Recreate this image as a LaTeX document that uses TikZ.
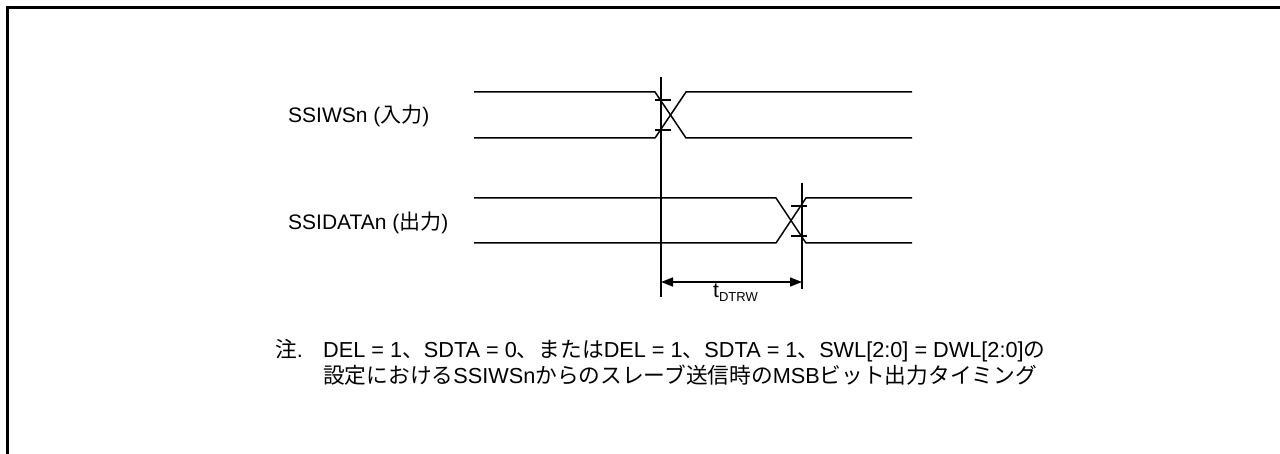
\documentclass[tikz,border=0pt]{standalone}
\usepackage{fontspec}
\setmainfont{Liberation Sans}
\newfontfamily\jp{Noto Sans CJK JP}
\usetikzlibrary{arrows.meta}
\tikzset{
  sig/.style={line width=1.5pt, line join=miter},
  tickln/.style={line width=1.5pt},
  lbl/.style={font=\fontsize{21}{24}\selectfont, inner sep=0pt, anchor=base west},
  notelbl/.style={font=\fontsize{21.7}{25}\selectfont, inner sep=0pt, anchor=base west},
  dimarr/.style={line width=1.5pt, {Triangle[length=12pt,width=9pt]}-{Triangle[length=12pt,width=9pt]}}
}
\begin{document}
\begin{tikzpicture}[x=1pt,y=-1pt]
\useasboundingbox (0,0) rectangle (1280,454);
% frame
\draw[line width=3pt] (7,454) -- (7,7.5) -- (1280,7.5);
% SSIWSn signal
\draw[sig] (474,92) -- (655,92) -- (686,138) -- (912,138);
\draw[sig] (474,138) -- (655,138) -- (686,92) -- (912,92);
\draw[tickln] (655,100) -- (671,100);
\draw[tickln] (655,130) -- (671,130);
% SSIDATAn signal
\draw[sig] (474,198) -- (776,198) -- (806,243) -- (912,243);
\draw[sig] (474,243) -- (776,243) -- (806,198) -- (912,198);
\draw[tickln] (791,206) -- (807,206);
\draw[tickln] (791,236) -- (807,236);
% reference verticals
\draw[tickln] (661,77) -- (661,297);
\draw[tickln] (802,183) -- (802,289);
\coordinate (a1) at (661,282);
\coordinate (a2) at (802,282);
\draw[dimarr] (a1) -- (a2);
\node[font=\fontsize{21}{24}\selectfont, inner sep=0pt, anchor=base west] (tl) at (713,298) {t\raisebox{-4pt}{\fontsize{13}{15}\selectfont DTRW}};
% labels
\node[lbl] (ws) at (288,122.5) {SSIWSn ({\jp 入力})};
\node[lbl] (da) at (288,230) {SSIDATAn ({\jp 出力})};
% note
\node[notelbl] (nt) at (275,358) {{\jp 注}.};
\node[notelbl] (n1) at (323,358) {DEL = 1{\jp 、}SDTA = 0{\jp 、または}DEL = 1{\jp 、}SDTA = 1{\jp 、}SWL[2:0] = DWL[2:0]{\jp の}};
\node[notelbl] (n2) at (323,383) {{\jp 設定における}SSIWSn{\jp からのスレーブ送信時の}MSB{\jp ビット出力タイミング}};
\end{tikzpicture}
\end{document}
